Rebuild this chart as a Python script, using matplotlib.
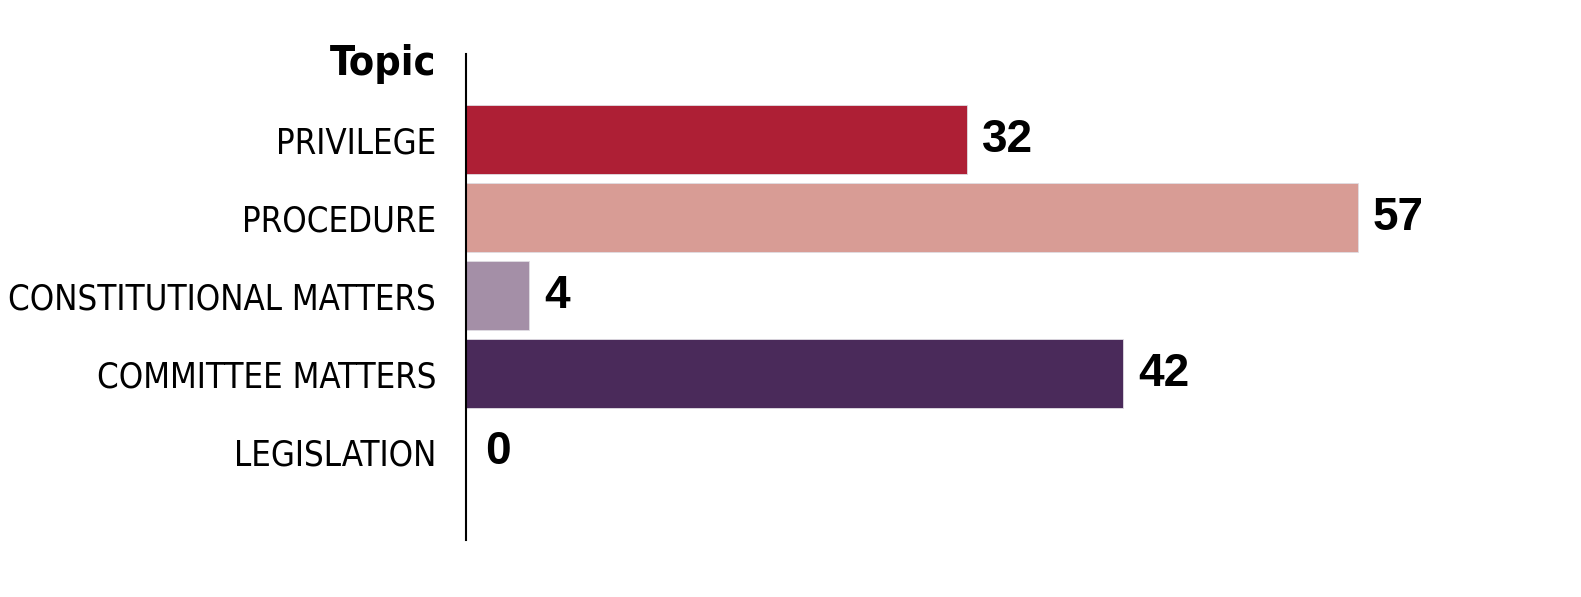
import matplotlib
matplotlib.use("Agg")
import matplotlib.pyplot as plt

topics = ["PRIVILEGE", "PROCEDURE", "CONSTITUTIONAL MATTERS", "COMMITTEE MATTERS", "LEGISLATION"]
counts = [32, 57, 4, 42, 0]
colors = ["#AE1F35", "#D89C95", "#A48FA7", "#4A2A5A", "#4A2A5A"]

fig = plt.figure(figsize=(15.81, 5.97), dpi=100)
ax = fig.add_axes([466 / 1581, 57 / 597, 0.655, 486 / 597])

ypos = list(range(len(topics)))
ax.barh(ypos, counts, height=0.885, color=colors, edgecolor="#e0dde3", linewidth=0.6)

for y, v in zip(ypos, counts):
    ax.annotate(str(v), (v, y), xytext=(11 if v else 14, 0), textcoords="offset points",
                ha="left", va="center", fontsize=33, fontweight="heavy",
                family="Liberation Sans")

ax.set_ylim(5.13, -1.1)
ax.set_xlim(0, 66.2)
ax.set_yticks(ypos)
ax.set_yticklabels(topics, family="DejaVu Sans", fontstretch="condensed", fontsize=24)
ax.tick_params(axis="y", length=0, pad=21.5)
ax.set_xticks([])
for s in ["top", "right", "bottom"]:
    ax.spines[s].set_visible(False)
ax.spines["left"].set_linewidth(1.5)

title = ax.text(-30 / 15.65, -0.97, "Topic", ha="right", va="center", fontsize=30,
                fontweight="bold", family="DejaVu Sans", fontstretch="condensed")

# squeeze the label font until the longest label fits the reference width
fig.canvas.draw()
r = fig.canvas.get_renderer()
longest = ax.get_yticklabels()[2]
w = longest.get_window_extent(r).width
size = 24 * 428 / w
for t in ax.get_yticklabels():
    t.set_fontsize(size)
tw = title.get_window_extent(r).width
title.set_fontsize(30 * 106 / tw)

fig.savefig("out.png", dpi=100)
